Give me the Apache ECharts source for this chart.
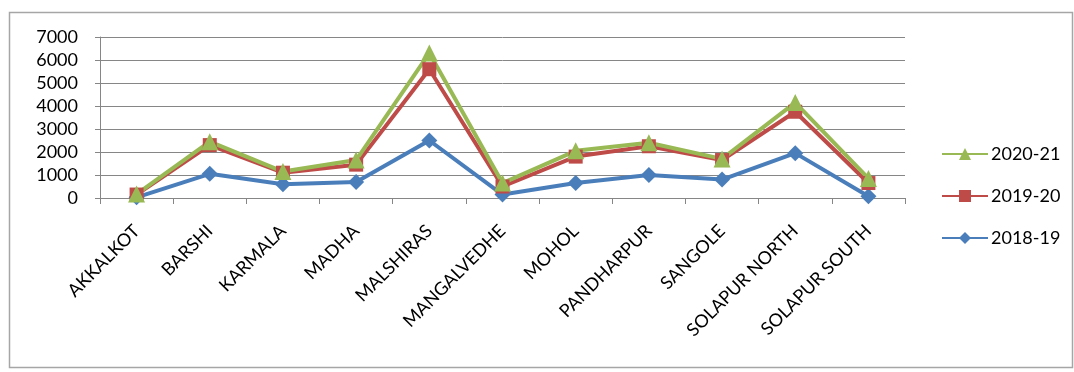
<!DOCTYPE html>
<html>
<head>
<meta charset="utf-8">
<script src="https://cdn.jsdelivr.net/npm/echarts@6/dist/echarts.min.js"></script>
<style>
  html, body { margin: 0; padding: 0; background: #fff; }
  #chart { width: 1074px; height: 372px; }
</style>
</head>
<body>
<div id="chart"></div>
<script>
// Talukas of Solapur district
const categories = ['AKKALKOT', 'BARSHI', 'KARMALA', 'MADHA', 'MALSHIRAS', 'MANGALVEDHE',
  'MOHOL', 'PANDHARPUR', 'SANGOLE', 'SOLAPUR NORTH', 'SOLAPUR SOUTH'];

// Yearly values per taluka
const values2018 = [30, 1050, 600, 700, 2500, 150, 650, 1000, 800, 1950, 80];
const values2019 = [150, 2300, 1100, 1450, 5600, 500, 1800, 2250, 1650, 3750, 650];
const values2020 = [170, 2450, 1150, 1650, 6300, 650, 2050, 2400, 1700, 4150, 850];

const yTicks = { min: 0, max: 7000, interval: 1000 };

const FONT = 'Lato';
const TEXT_COLOR = '#000';
const colors = { y2018: '#4A7EBB', y2019: '#BE4B48', y2020: '#98B954' };

const chart = echarts.init(document.getElementById('chart'));

function lineSeries(name, data, color, symbol, size) {
  return {
    name: name,
    type: 'line',
    data: data,
    symbol: symbol,
    symbolSize: size,
    showSymbol: true,
    lineStyle: { color: color, width: 4 },
    itemStyle: { color: color, borderWidth: 0 },
    emphasis: { disabled: true },
    animation: false
  };
}

chart.setOption({
  backgroundColor: '#ffffff',
  textStyle: { fontFamily: FONT },
  graphic: [{
    type: 'rect',
    shape: { x: 9.5, y: 12.5, width: 1063, height: 355 },
    style: { fill: 'none', stroke: '#a6a6a6', lineWidth: 1.5 },
    silent: true
  }],
  grid: { left: 100, right: 169, top: 37, bottom: 174, containLabel: false },
  legend: {
    orient: 'vertical',
    left: 936,
    top: 140,
    itemGap: 24,
    itemWidth: 46,
    itemHeight: 15,
    data: ['2020-21', '2019-20', '2018-19'],
    textStyle: { fontFamily: FONT, fontSize: 18, color: TEXT_COLOR, padding: [0, 0, 0, -2] }
  },
  xAxis: {
    type: 'category',
    data: categories,
    boundaryGap: true,
    axisLine: { lineStyle: { color: '#868686', width: 1 } },
    axisTick: { show: true, length: 6, lineStyle: { color: '#868686' } },
    axisLabel: {
      rotate: 45,
      interval: 0,
      margin: 30,
      fontFamily: FONT,
      fontSize: 18,
      color: TEXT_COLOR
    },
    splitLine: { show: false }
  },
  yAxis: {
    type: 'value',
    min: yTicks.min,
    max: yTicks.max,
    interval: yTicks.interval,
    axisLine: { show: true, lineStyle: { color: '#868686', width: 1 } },
    axisTick: { show: true, length: 5, lineStyle: { color: '#868686' } },
    axisLabel: {
      margin: 22,
      fontFamily: FONT,
      fontSize: 18,
      color: TEXT_COLOR,
      formatter: function (v) { return String(v); }
    },
    splitLine: { show: true, lineStyle: { color: '#868686', width: 1 } }
  },
  series: [
    lineSeries('2018-19', values2018, colors.y2018, 'diamond', 16),
    lineSeries('2019-20', values2019, colors.y2019, 'rect', 14),
    lineSeries('2020-21', values2020, colors.y2020, 'triangle', 17)
  ]
});
</script>
</body>
</html>
